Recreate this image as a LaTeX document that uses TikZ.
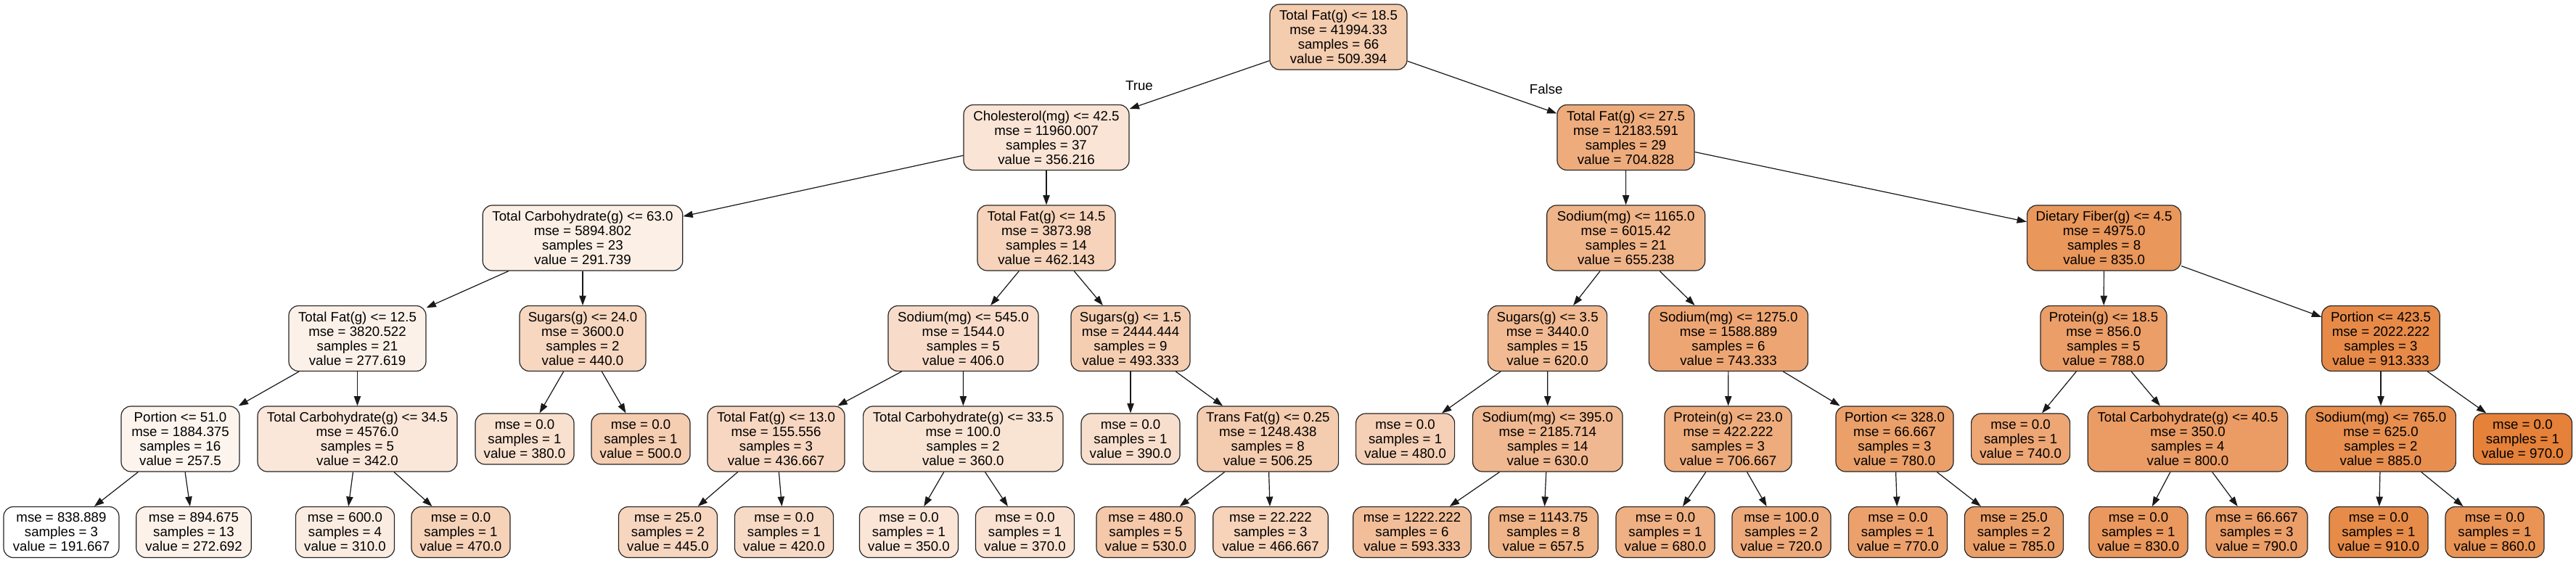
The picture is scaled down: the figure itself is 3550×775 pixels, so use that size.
\documentclass[tikz,border=0pt]{standalone}
\usepackage{fontspec}
\setmainfont{Liberation Sans}
\usetikzlibrary{arrows.meta}
\definecolor{sk}{RGB}{229,129,57}
\tikzset{
  nd/.style={draw=black!85, line width=0.9pt, rounded corners=10pt, align=center,
    font=\fontsize{14}{15}\selectfont, inner sep=0pt, minimum height=67.5pt},
  lf/.style={nd, minimum height=52.5pt},
  ed/.style={-{Triangle[length=10pt,width=7pt]}, line width=0.9pt, draw=black!90, fill=black},
  elab/.style={font=\fontsize{14}{15}\selectfont, inner sep=0pt},
}
\newcommand\TN[6]{\node[nd, minimum width=#4*0.75pt, fill=sk!#5] (#1) at (#2,#3) {#6};}
\newcommand\TL[6]{\node[lf, minimum width=#4*0.75pt, fill=sk!#5] (#1) at (#2,#3) {#6};}
\begin{document}
\begin{tikzpicture}[x=0.75pt,y=-0.75pt]
\useasboundingbox[fill=white] (0,0) rectangle (3550,775);
% level 0
\TN{n0}{1844.5}{51}{189}{40.8}{Total Fat(g) <= 18.5\\mse = 41994.33\\samples = 66\\value = 509.394}
% level 1
\TN{n1}{1442}{189.5}{228}{21.1}{Cholesterol(mg) <= 42.5\\mse = 11960.007\\samples = 37\\value = 356.216}
\TN{n2}{2240.5}{189.5}{189}{65.9}{Total Fat(g) <= 27.5\\mse = 12183.591\\samples = 29\\value = 704.828}
% level 2
\TN{n3}{803}{328}{275.6}{12.9}{Total Carbohydrate(g) <= 63.0\\mse = 5894.802\\samples = 23\\value = 291.739}
\TN{n4}{1442}{328}{190}{34.8}{Total Fat(g) <= 14.5\\mse = 3873.98\\samples = 14\\value = 462.143}
\TN{n5}{2240.7}{328}{218}{59.6}{Sodium(mg) <= 1165.0\\mse = 6015.42\\samples = 21\\value = 655.238}
\TN{n6}{2899.6}{328}{212}{82.7}{Dietary Fiber(g) <= 4.5\\mse = 4975.0\\samples = 8\\value = 835.0}
% level 3
\TN{n7}{492.5}{466.5}{189}{11.0}{Total Fat(g) <= 12.5\\mse = 3820.522\\samples = 21\\value = 277.619}
\TN{n8}{803}{466.5}{174}{31.9}{Sugars(g) <= 24.0\\mse = 3600.0\\samples = 2\\value = 440.0}
\TN{n9}{1327.5}{466.5}{207}{27.5}{Sodium(mg) <= 545.0\\mse = 1544.0\\samples = 5\\value = 406.0}
\TN{n10}{1558}{466.5}{164}{38.8}{Sugars(g) <= 1.5\\mse = 2444.444\\samples = 9\\value = 493.333}
\TN{n11}{2132.6}{466.5}{164}{55.0}{Sugars(g) <= 3.5\\mse = 3440.0\\samples = 15\\value = 620.0}
\TN{n12}{2382}{466.5}{219}{70.9}{Sodium(mg) <= 1275.0\\mse = 1588.889\\samples = 6\\value = 743.333}
\TN{n13}{2899}{466.5}{174}{76.6}{Protein(g) <= 18.5\\mse = 856.0\\samples = 5\\value = 788.0}
\TN{n14}{3281}{466.5}{162.5}{92.7}{Portion <= 423.5\\mse = 2022.222\\samples = 3\\value = 913.333}
% level 4
\TN{n15}{248.5}{605}{163}{8.5}{Portion <= 51.0\\mse = 1884.375\\samples = 16\\value = 257.5}
\TN{n16}{492.5}{605}{275}{19.3}{Total Carbohydrate(g) <= 34.5\\mse = 4576.0\\samples = 5\\value = 342.0}
\TL{n17}{723}{605}{136}{24.2}{mse = 0.0\\samples = 1\\value = 380.0}
\TL{n18}{883}{605}{136}{39.6}{mse = 0.0\\samples = 1\\value = 500.0}
\TN{n19}{1069.5}{605}{189}{31.5}{Total Fat(g) <= 13.0\\mse = 155.556\\samples = 3\\value = 436.667}
\TN{n20}{1327.3}{605}{275.4}{21.6}{Total Carbohydrate(g) <= 33.5\\mse = 100.0\\samples = 2\\value = 360.0}
\TL{n21}{1558}{605}{136}{25.5}{mse = 0.0\\samples = 1\\value = 390.0}
\TN{n22}{1747.3}{605}{194.6}{40.4}{Trans Fat(g) <= 0.25\\mse = 1248.438\\samples = 8\\value = 506.25}
\TL{n23}{1936.6}{605}{136}{37.0}{mse = 0.0\\samples = 1\\value = 480.0}
\TN{n24}{2132.8}{605}{206.5}{56.3}{Sodium(mg) <= 395.0\\mse = 2185.714\\samples = 14\\value = 630.0}
\TN{n25}{2381.5}{605}{175}{66.2}{Protein(g) <= 23.0\\mse = 422.222\\samples = 3\\value = 706.667}
\TN{n26}{2611}{605}{162}{75.6}{Portion <= 328.0\\mse = 66.667\\samples = 3\\value = 780.0}
\TL{n27}{2784.6}{605}{136}{70.4}{mse = 0.0\\samples = 1\\value = 740.0}
\TN{n28}{3015}{605}{275.4}{78.2}{Total Carbohydrate(g) <= 40.5\\mse = 350.0\\samples = 4\\value = 800.0}
\TN{n29}{3281}{605}{206.7}{89.1}{Sodium(mg) <= 765.0\\mse = 625.0\\samples = 2\\value = 885.0}
\TL{n30}{3476.4}{605}{136}{100}{mse = 0.0\\samples = 1\\value = 970.0}
% level 5
\TL{l1}{84.5}{733.5}{159}{0}{mse = 838.889\\samples = 3\\value = 191.667}
\TL{l2}{267}{733.5}{158.5}{10.4}{mse = 894.675\\samples = 13\\value = 272.692}
\TL{l3}{475.5}{733.5}{136}{15.2}{mse = 600.0\\samples = 4\\value = 310.0}
\TL{l4}{635}{733.5}{136}{35.8}{mse = 0.0\\samples = 1\\value = 470.0}
\TL{l5}{920.5}{733.5}{136}{32.5}{mse = 25.0\\samples = 2\\value = 445.0}
\TL{l6}{1080.5}{733.5}{136}{29.3}{mse = 0.0\\samples = 1\\value = 420.0}
\TL{l7}{1252.5}{733.5}{136}{20.3}{mse = 0.0\\samples = 1\\value = 350.0}
\TL{l8}{1412.5}{733.5}{136}{22.9}{mse = 0.0\\samples = 1\\value = 370.0}
\TL{l9}{1579}{733.5}{136}{43.5}{mse = 480.0\\samples = 5\\value = 530.0}
\TL{l10}{1751}{733.5}{158.5}{35.3}{mse = 22.222\\samples = 3\\value = 466.667}
\TL{l11}{1946}{733.5}{162.5}{51.6}{mse = 1222.222\\samples = 6\\value = 593.333}
\TL{l12}{2127}{733.5}{150.5}{59.9}{mse = 1143.75\\samples = 8\\value = 657.5}
\TL{l13}{2295}{733.5}{136}{62.7}{mse = 0.0\\samples = 1\\value = 680.0}
\TL{l14}{2455}{733.5}{136}{67.9}{mse = 100.0\\samples = 2\\value = 720.0}
\TL{l15}{2615.5}{733.5}{136}{74.3}{mse = 0.0\\samples = 1\\value = 770.0}
\TL{l16}{2775.4}{733.5}{136}{76.2}{mse = 25.0\\samples = 2\\value = 785.0}
\TL{l17}{2947}{733.5}{136}{82.0}{mse = 0.0\\samples = 1\\value = 830.0}
\TL{l18}{3110}{733.5}{140}{76.9}{mse = 66.667\\samples = 3\\value = 790.0}
\TL{l19}{3278}{733.5}{136}{92.3}{mse = 0.0\\samples = 1\\value = 910.0}
\TL{l20}{3438}{733.5}{136}{85.9}{mse = 0.0\\samples = 1\\value = 860.0}
% edge labels
\node[elab] (tl) at (1570,118) {True};
\node[elab] (fl) at (2130.7,123) {False};
% edges
\draw[ed] (n0) -- (n1);
\draw[ed] (n0) -- (n2);
\draw[ed] (n1) -- (n3);
\draw[ed] (n1) -- (n4);
\draw[ed] (n2) -- (n5);
\draw[ed] (n2) -- (n6);
\draw[ed] (n3) -- (n7);
\draw[ed] (n3) -- (n8);
\draw[ed] (n4) -- (n9);
\draw[ed] (n4) -- (n10);
\draw[ed] (n5) -- (n11);
\draw[ed] (n5) -- (n12);
\draw[ed] (n6) -- (n13);
\draw[ed] (n6) -- (n14);
\draw[ed] (n7) -- (n15);
\draw[ed] (n7) -- (n16);
\draw[ed] (n8) -- (n17);
\draw[ed] (n8) -- (n18);
\draw[ed] (n9) -- (n19);
\draw[ed] (n9) -- (n20);
\draw[ed] (n10) -- (n21);
\draw[ed] (n10) -- (n22);
\draw[ed] (n11) -- (n23);
\draw[ed] (n11) -- (n24);
\draw[ed] (n12) -- (n25);
\draw[ed] (n12) -- (n26);
\draw[ed] (n13) -- (n27);
\draw[ed] (n13) -- (n28);
\draw[ed] (n14) -- (n29);
\draw[ed] (n14) -- (n30);
\draw[ed] (n15) -- (l1);
\draw[ed] (n15) -- (l2);
\draw[ed] (n16) -- (l3);
\draw[ed] (n16) -- (l4);
\draw[ed] (n19) -- (l5);
\draw[ed] (n19) -- (l6);
\draw[ed] (n20) -- (l7);
\draw[ed] (n20) -- (l8);
\draw[ed] (n22) -- (l9);
\draw[ed] (n22) -- (l10);
\draw[ed] (n24) -- (l11);
\draw[ed] (n24) -- (l12);
\draw[ed] (n25) -- (l13);
\draw[ed] (n25) -- (l14);
\draw[ed] (n26) -- (l15);
\draw[ed] (n26) -- (l16);
\draw[ed] (n28) -- (l17);
\draw[ed] (n28) -- (l18);
\draw[ed] (n29) -- (l19);
\draw[ed] (n29) -- (l20);
\end{tikzpicture}
\end{document}
